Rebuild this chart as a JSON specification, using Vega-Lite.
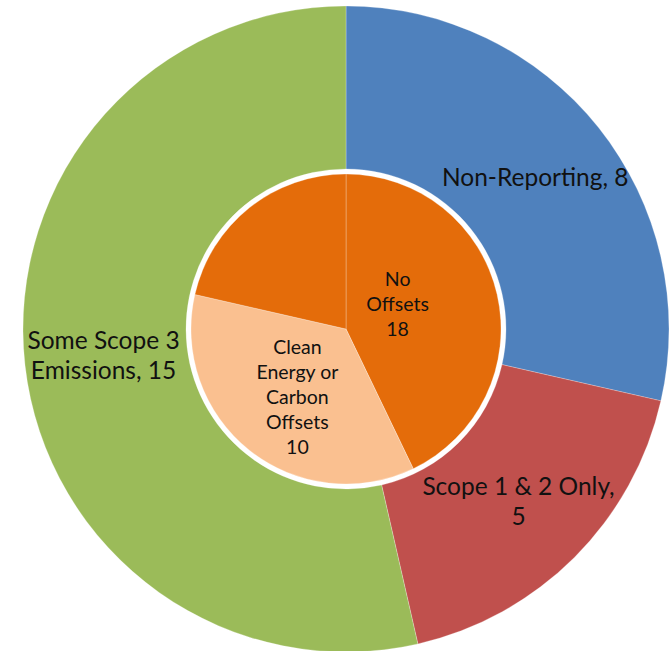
{
  "$schema": "https://vega.github.io/schema/vega-lite/v6.json",
  "width": 646,
  "height": 646,
  "padding": {"left": 22, "top": 5, "right": 1, "bottom": 0},
  "background": "white",
  "view": {"stroke": null},
  "data": {
    "values": [
      {"ring": "outer", "seq": 1, "category": "Non-Reporting", "value": 8, "label": "Non-Reporting, 8"},
      {"ring": "outer", "seq": 2, "category": "Scope 1 & 2 Only", "value": 5, "label": "Scope 1 & 2 Only,|5"},
      {"ring": "outer", "seq": 3, "category": "Some Scope 3 Emissions", "value": 15, "label": "Some Scope 3|Emissions, 15"},
      {"ring": "inner", "seq": 1, "category": "No Offsets", "value": 12, "label": "No|Offsets|18"},
      {"ring": "inner", "seq": 2, "category": "Clean Energy or Carbon Offsets", "value": 10, "label": "Clean|Energy or|Carbon|Offsets|10"},
      {"ring": "inner", "seq": 3, "category": "No Offsets", "value": 6, "label": ""}
    ]
  },
  "layer": [
    {
      "transform": [{"filter": "datum.ring === 'outer'"}],
      "mark": {"type": "arc", "radius": 323, "radius2": 160, "stroke": "#ffffff", "strokeWidth": 0.5, "strokeOpacity": 0.5},
      "encoding": {
        "theta": {"field": "value", "type": "quantitative", "stack": true},
        "order": {"field": "seq", "type": "quantitative"},
        "color": {
          "field": "category", "type": "nominal", "legend": null,
          "scale": {
            "domain": ["Non-Reporting", "Scope 1 & 2 Only", "Some Scope 3 Emissions", "No Offsets", "Clean Energy or Carbon Offsets"],
            "range": ["#4F81BD", "#C0504D", "#9BBB59", "#E46C0A", "#FAC090"]
          }
        }
      }
    },
    {
      "transform": [{"filter": "datum.ring === 'inner'"}],
      "mark": {"type": "arc", "radius": 155, "stroke": "#ffffff", "strokeWidth": 0.6, "strokeOpacity": 0.45},
      "encoding": {
        "theta": {"field": "value", "type": "quantitative", "stack": true},
        "order": {"field": "seq", "type": "quantitative"},
        "color": {"field": "category", "type": "nominal", "legend": null}
      }
    },
    {
      "transform": [{"filter": "datum.ring === 'outer'"}],
      "mark": {"type": "text", "radius": 242, "dy": 1, "font": "Lato", "fontSize": 24.5, "lineHeight": 30, "lineBreak": "|", "align": "center", "baseline": "middle", "fill": "#111111"},
      "encoding": {
        "theta": {"field": "value", "type": "quantitative", "stack": true},
        "order": {"field": "seq", "type": "quantitative"},
        "detail": {"field": "seq", "type": "nominal"},
        "text": {"condition": {"test": "datum.seq === 1", "field": "label"}, "value": ""}
      }
    },
    {
      "transform": [{"filter": "datum.ring === 'outer'"}],
      "mark": {"type": "text", "radius": 244, "dy": -14, "font": "Lato", "fontSize": 24.5, "lineHeight": 30, "lineBreak": "|", "align": "center", "baseline": "middle", "fill": "#111111"},
      "encoding": {
        "theta": {"field": "value", "type": "quantitative", "stack": true},
        "order": {"field": "seq", "type": "quantitative"},
        "detail": {"field": "seq", "type": "nominal"},
        "text": {"condition": {"test": "datum.seq !== 1", "field": "label"}, "value": ""}
      }
    },
    {
      "transform": [{"filter": "datum.ring === 'inner'"}],
      "mark": {"type": "text", "radius": 86, "dx": 5, "dy": -48, "font": "Lato", "fontSize": 19.5, "lineHeight": 25, "lineBreak": "|", "align": "center", "baseline": "middle", "fill": "#111111"},
      "encoding": {
        "theta": {"field": "value", "type": "quantitative", "stack": true},
        "order": {"field": "seq", "type": "quantitative"},
        "detail": {"field": "seq", "type": "nominal"},
        "text": {"condition": {"test": "datum.seq === 2", "field": "label"}, "value": ""}
      }
    },
    {
      "transform": [{"filter": "datum.ring === 'inner'"}],
      "mark": {"type": "text", "radius": 55, "dx": -2, "dy": -37, "font": "Lato", "fontSize": 19.5, "lineHeight": 25, "lineBreak": "|", "align": "center", "baseline": "middle", "fill": "#111111"},
      "encoding": {
        "theta": {"field": "value", "type": "quantitative", "stack": true},
        "order": {"field": "seq", "type": "quantitative"},
        "detail": {"field": "seq", "type": "nominal"},
        "text": {"condition": {"test": "datum.seq === 1", "field": "label"}, "value": ""}
      }
    }
  ]
}
